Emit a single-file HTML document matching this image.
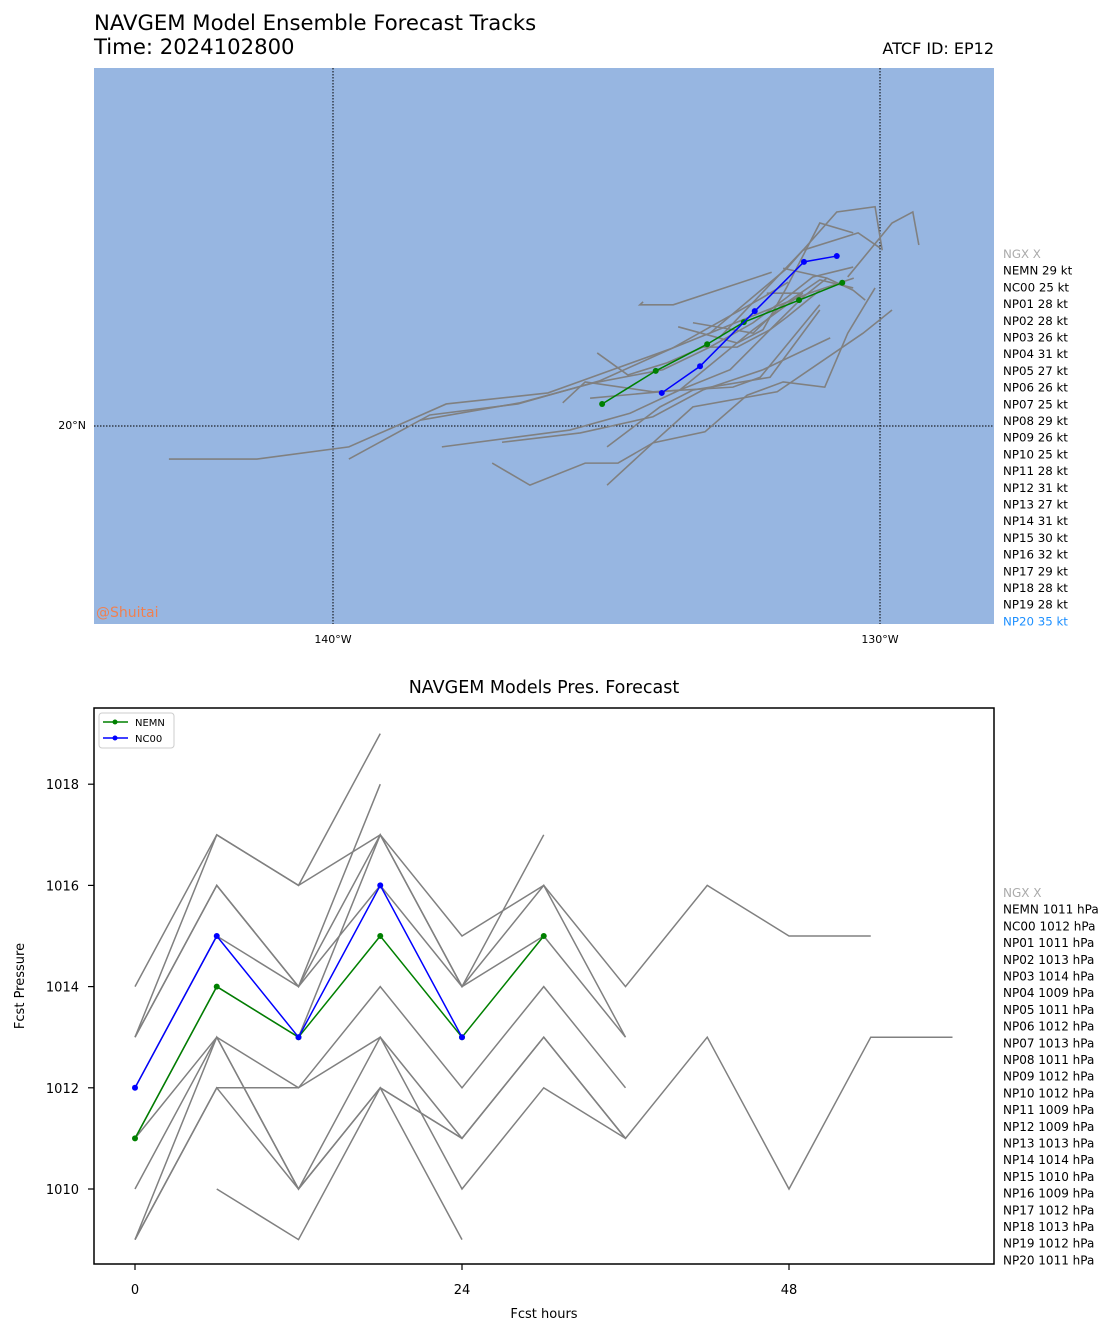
<!DOCTYPE html>
<html><head><meta charset="utf-8">
<style>
html,body{margin:0;padding:0;background:#fff;}
svg{display:block;font-family:"DejaVu Sans","Liberation Sans",sans-serif;}
</style></head>
<body>
<svg id="chart" width="1117" height="1335" viewBox="0 0 1117 1335" xmlns="http://www.w3.org/2000/svg">
<text x="94" y="30" font-size="21.2" fill="#000">NAVGEM Model Ensemble Forecast Tracks</text>
<text x="94" y="54" font-size="21.2" fill="#000">Time: 2024102800</text>
<text x="994" y="54" font-size="16" fill="#000" text-anchor="end">ATCF ID: EP12</text>
<rect x="94" y="68" width="900" height="556" fill="#97b6e1"/>
<g id="mapGrid"></g>
<g id="mapTracks"></g>
<text x="96" y="617" font-size="14" fill="#f08050">@Shuitai</text>
<g id="mapLegend"></g>

<text x="544" y="693" font-size="17.5" text-anchor="middle" fill="#000">NAVGEM Models Pres. Forecast</text>
<g id="presPlot"></g>
<rect x="94" y="708" width="900" height="556" fill="none" stroke="#000" stroke-width="1.5"/>
<g id="presLegendBox">
  <rect x="99" y="713" width="75" height="35" rx="3" fill="#fff" stroke="#ccc" stroke-width="1"/>
  <line x1="103" y1="722" x2="128" y2="722" stroke="green" stroke-width="1.5"/><circle cx="115" cy="722" r="2.5" fill="green"/>
  <text x="135" y="726" font-size="10" fill="#000">NEMN</text>
  <line x1="103" y1="738" x2="128" y2="738" stroke="blue" stroke-width="1.5"/><circle cx="115" cy="738" r="2.5" fill="blue"/>
  <text x="135" y="742" font-size="10" fill="#000">NC00</text>
</g>
<text x="544" y="1318" font-size="13" text-anchor="middle">Fcst hours</text>
<text x="24" y="986" font-size="13" text-anchor="middle" transform="rotate(-90 24 986)">Fcst Pressure</text>
<g id="presLegend"></g>
</svg>
<script>
// ---- Map data (lon, lat) ----
const nemnLon = [-135.08,-134.10,-133.16,-132.49,-131.48,-130.69];
const nemnLat = [20.38,20.95,21.41,21.79,22.17,22.47];
const nc00Lon = [-133.99,-133.29,-132.29,-131.39,-130.79];
const nc00Lat = [20.57,21.03,21.98,22.83,22.93];
const trackLons = [
 [-143.0,-141.39,-139.71,-137.93,-136.07,-133.80,-132.19,-131.68],
 [-139.71,-138.23,-136.62,-135.12,-133.80,-132.51,-131.32,-130.48],
 [-138.41,-136.58,-135.25,-133.97,-133.11,-132.32,-131.70,-131.23,-130.49],
 [-138.01,-135.67,-134.57,-133.66,-132.74,-132.01,-131.41,-130.97],
 [-136.91,-135.48,-134.15,-133.24,-132.14,-130.91],
 [-137.09,-136.40,-135.39,-134.79,-134.15,-133.20,-132.43,-131.77,-131.01,-130.59,-130.09],
 [-134.99,-134.15,-133.42,-131.88,-130.31,-129.78],
 [-134.99,-134.02,-133.42,-132.01,-131.10],
 [-135.80,-135.39,-134.15,-132.69,-132.19,-131.10],
 [-135.30,-133.66,-132.32,-131.41],
 [-135.17,-134.61,-133.89,-133.24,-132.61,-132.01,-131.70,-131.10],
 [-134.33,-134.39,-133.78,-131.98],
 [-133.69,-132.61,-132.14,-131.70,-131.10,-130.49],
 [-133.42,-132.32,-131.83,-131.10,-130.49],
 [-133.11,-131.70,-130.79,-130.09,-129.96],
 [-132.93,-131.41,-130.40,-130.00],
 [-131.77,-130.97,-130.49,-130.27],
 [-130.59,-129.78,-129.40,-129.29],
 [-132.07,-131.41]
];
const trackLats = [
 [19.43,19.43,19.64,20.38,20.57,21.34,22.19,22.48],
 [19.43,20.19,20.38,20.78,21.34,21.83,22.28,22.55],
 [20.10,20.40,20.74,20.97,21.36,21.78,22.22,22.57,22.74],
 [19.64,19.93,20.22,20.62,20.97,21.66,22.22,22.55],
 [19.72,19.88,20.16,20.62,20.97,21.52],
 [19.36,18.98,19.36,19.36,19.71,19.90,20.53,20.76,20.67,21.60,22.38],
 [18.98,19.71,20.33,20.59,21.60,22.00],
 [19.64,20.33,20.62,20.84,22.00],
 [20.40,20.76,20.59,20.67,20.84,22.09],
 [20.48,20.62,21.66,22.29],
 [21.26,20.88,21.09,21.36,21.36,21.66,21.88,22.34],
 [22.14,22.09,22.09,22.65],
 [21.71,21.43,21.66,22.40,23.50,23.33],
 [21.78,21.60,22.05,22.52,22.38],
 [21.60,22.72,23.69,23.78,23.03],
 [21.53,23.03,23.33,23.07],
 [22.72,22.55,22.34,22.17],
 [22.57,23.50,23.69,23.12],
 [22.29,22.29]
];
const mapLegendLabels = ["NGX X","NEMN 29 kt","NC00 25 kt","NP01 28 kt","NP02 28 kt","NP03 26 kt","NP04 31 kt","NP05 27 kt","NP06 26 kt","NP07 25 kt","NP08 29 kt","NP09 26 kt","NP10 25 kt","NP11 28 kt","NP12 31 kt","NP13 27 kt","NP14 31 kt","NP15 30 kt","NP16 32 kt","NP17 29 kt","NP18 28 kt","NP19 28 kt","NP20 35 kt"];
const lonTicks = [-140,-130];
const lonTickLabels = ["140°W","130°W"];
const latTicks = [20];
const latTickLabels = ["20°N"];

// ---- Pressure data ----
const hours = [0,6,12,18,24,30,36,42,48,54,60];
const nemnPres = [1011,1014,1013,1015,1013,1015];
const nc00Pres = [1012,1015,1013,1016,1013];
const memberPres = [
 [1014,1017,1016,1017,1015,1016,1014,1016,1015,1015],
 [1013,1017,1016,1019],
 [1013,1016,1014,1018],
 [1013,1016,1014,1017,1014,1016,1013],
 [1012,1015,1014,1016,1014,1015,1013],
 [1011,1014,1013,1017,1014,1017],
 [1011,1013,1012,1014,1012,1014,1012],
 [1010,1013,1010,1013,1011,1013,1011,1013,1010,1013,1013],
 [1009,1012,1012,1013,1010,1012,1011],
 [1009,1013,1010,1012,1011],
 [1009,1012,1010,1012,1011,1013,1011],
 [null,1010,1009,1012,1009]
];
const presTicks = [1010,1012,1014,1016,1018];
const hourTicks = [0,24,48];
const presLegendLabels = ["NGX X","NEMN 1011 hPa","NC00 1012 hPa","NP01 1011 hPa","NP02 1013 hPa","NP03 1014 hPa","NP04 1009 hPa","NP05 1011 hPa","NP06 1012 hPa","NP07 1013 hPa","NP08 1011 hPa","NP09 1012 hPa","NP10 1012 hPa","NP11 1009 hPa","NP12 1009 hPa","NP13 1013 hPa","NP14 1014 hPa","NP15 1010 hPa","NP16 1009 hPa","NP17 1012 hPa","NP18 1013 hPa","NP19 1012 hPa","NP20 1011 hPa"];

const NS = "http://www.w3.org/2000/svg";
function mk(tag, attrs, parent){ const e=document.createElementNS(NS,tag); for(const k in attrs) e.setAttribute(k,attrs[k]); parent.appendChild(e); return e; }

const xLon = lon => 333 + (lon + 140) * 54.7;
const yLat = lat => 426 - (lat - 20) * 58;
const grid = document.getElementById('mapGrid');
lonTicks.forEach((t,i)=>{
  const l = mk('line',{x1:xLon(t),x2:xLon(t),y1:68,y2:624,stroke:'#000','stroke-width':1,'stroke-dasharray':'1.5,1.5'},grid);
  
  
  const tx = mk('text',{x:xLon(t),y:643,'font-size':11,'text-anchor':'middle'},grid);
  tx.textContent = lonTickLabels[i];
  
  
});
latTicks.forEach((t,i)=>{
  const l = mk('line',{x1:94,x2:994,y1:yLat(t),y2:yLat(t),stroke:'#000','stroke-width':1,'stroke-dasharray':'1.5,1.5'},grid);
  
  
  const tx = mk('text',{x:86,y:yLat(t)+3,'font-size':11,'text-anchor':'end'},grid);
  tx.textContent = latTickLabels[i];
  
  
});
const tracks = document.getElementById('mapTracks');
trackLons.forEach((lons,i)=>{
  const pts = lons.map((lo,j)=>xLon(lo)+','+yLat(trackLats[i][j])).join(' ');
  const p = mk('polyline',{points:pts,fill:'none',stroke:'#808080','stroke-width':1.6},tracks);
  
  
});
function drawTrack(lons,lats,color,name){
  const pts = lons.map((lo,j)=>xLon(lo)+','+yLat(lats[j])).join(' ');
  const p = mk('polyline',{points:pts,fill:'none',stroke:color,'stroke-width':1.5},tracks);
  
  
  lons.forEach((lo,j)=>{
    const c = mk('circle',{cx:xLon(lo),cy:yLat(lats[j]),r:3,fill:color},tracks);
    
    
  });
}
drawTrack(nemnLon,nemnLat,'green','nemn-track');
drawTrack(nc00Lon,nc00Lat,'blue','nc00-track');

const ml = document.getElementById('mapLegend');
mapLegendLabels.forEach((s,i)=>{
  const color = i===0 ? '#aaaaaa' : (i===mapLegendLabels.length-1 ? '#1e90ff' : '#000');
  const t = mk('text',{x:1003,y:258+i*16.7,'font-size':11.8,fill:color},ml);
  t.textContent = s;
  
  
});

const xH = h => 135 + h * 13.625;
const yP = p => 1189 - (p - 1010) * 50.6;
const pp = document.getElementById('presPlot');
presTicks.forEach(t=>{
  const l = mk('line',{x1:88,x2:94,y1:yP(t),y2:yP(t),stroke:'#000','stroke-width':1.2},pp);
  
  
  const tx = mk('text',{x:79,y:yP(t)+5,'font-size':13,'text-anchor':'end'},pp);
  tx.textContent = t;
  
  
});
hourTicks.forEach(t=>{
  const l = mk('line',{x1:xH(t),x2:xH(t),y1:1264,y2:1270,stroke:'#000','stroke-width':1.2},pp);
  
  
  const tx = mk('text',{x:xH(t),y:1294,'font-size':13,'text-anchor':'middle'},pp);
  tx.textContent = t;
  
  
});
memberPres.forEach(arr=>{
  const pts = [];
  arr.forEach((v,j)=>{ if(v!==null) pts.push(xH(hours[j])+','+yP(v)); });
  const p = mk('polyline',{points:pts.join(' '),fill:'none',stroke:'#808080','stroke-width':1.5},pp);
  
  
});
function drawPres(arr,color,name){
  const pts = arr.map((v,j)=>xH(hours[j])+','+yP(v)).join(' ');
  const p = mk('polyline',{points:pts,fill:'none',stroke:color,'stroke-width':1.5},pp);
  
  
  arr.forEach((v,j)=>{
    const c = mk('circle',{cx:xH(hours[j]),cy:yP(v),r:3,fill:color},pp);
    
    
  });
}
drawPres(nemnPres,'green','nemn-pressure');
drawPres(nc00Pres,'blue','nc00-pressure');

const pl = document.getElementById('presLegend');
presLegendLabels.forEach((s,i)=>{
  const t = mk('text',{x:1003,y:897+i*16.7,'font-size':12,fill:i===0?'#aaaaaa':'#000'},pl);
  t.textContent = s;
  
  
});
</script>
</body></html>
